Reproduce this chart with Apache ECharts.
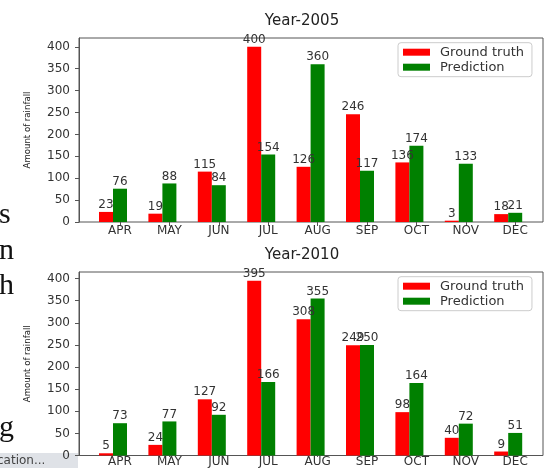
<!DOCTYPE html>
<html>
<head>
<meta charset="utf-8">
<script src="https://cdn.jsdelivr.net/npm/echarts@6/dist/echarts.min.js"></script>
<style>
html,body{margin:0;padding:0;background:#fff;}
#chart{width:549px;height:468px;}
</style>
</head>
<body>
<div id="chart"></div>
<script>
const months = ['APR','MAY','JUN','JUL','AUG','SEP','OCT','NOV','DEC'];
const truth2005 = [23, 19, 115, 400, 126, 246, 136, 3, 18];
const pred2005  = [76, 88, 84, 154, 360, 117, 174, 133, 21];
const truth2010 = [5, 24, 127, 395, 308, 249, 98, 40, 9];
const pred2010  = [73, 77, 92, 166, 355, 250, 164, 72, 51];
const yTicks = [0, 50, 100, 150, 200, 250, 300, 350, 400];
const titles = ['Year-2005', 'Year-2010'];
const seriesNames = ['Ground truth', 'Prediction'];

const chart = echarts.init(document.getElementById('chart'), null, {renderer: 'canvas'});
const FONT = 'DejaVu Sans';
const axisColor = '#555';
const textColor = '#333';

const panels = [
  {top: 38, height: 184, max: 420, truth: truth2005, pred: pred2005, titleTop: 9, legendTop: 42.7},
  {top: 272, height: 183.5, max: 414.75, truth: truth2010, pred: pred2010, titleTop: 243, legendTop: 276.7}
];

const grid = [], xAxis = [], yAxis = [], series = [], title = [], legend = [];
panels.forEach((p, k) => {
  const base = k * 3;
  grid.push({left: 79, width: 464, top: p.top, height: p.height, show: true, borderColor: axisColor, borderWidth: 1, backgroundColor: 'transparent'});
  grid.push({left: 88.3, width: 444.6, top: p.top, height: p.height});
  grid.push({left: 95.3, width: 444.6, top: p.top, height: p.height});
  // frame axes
  xAxis.push({gridIndex: base, type: 'value', min: 0, max: 1, show: false});
  yAxis.push({
    gridIndex: base, type: 'value', min: 0, max: p.max, interval: 50,
    name: 'Amount of rainfall', nameLocation: 'middle', nameRotate: 90, nameGap: 46,
    nameTextStyle: {fontFamily: "'DejaVu Sans Condensed', 'Liberation Sans', sans-serif", fontSize: 9.5, color: '#222'},
    axisLine: {show: true, lineStyle: {color: axisColor}},
    axisTick: {show: true, length: 4, lineStyle: {color: axisColor}},
    splitLine: {show: false},
    axisLabel: {
      fontFamily: FONT, fontSize: 12, color: textColor, margin: 9,
      showMaxLabel: false,
      formatter: v => (yTicks.indexOf(v) >= 0 ? String(v) : '')
    }
  });
  // bar axes
  xAxis.push({gridIndex: base + 1, type: 'category', data: months, show: false, boundaryGap: true});
  yAxis.push({gridIndex: base + 1, type: 'value', min: 0, max: p.max, show: false});
  // label axes
  xAxis.push({
    gridIndex: base + 2, type: 'category', data: months, boundaryGap: true,
    axisLine: {show: false},
    axisTick: {show: true, alignWithLabel: true, length: 4, lineStyle: {color: axisColor}},
    axisLabel: {fontFamily: FONT, fontSize: 12, color: textColor, margin: 3}
  });
  yAxis.push({gridIndex: base + 2, type: 'value', min: 0, max: p.max, show: false});

  const lbl = {show: true, position: 'top', distance: 1, fontFamily: FONT, fontSize: 12, color: textColor};
  series.push({
    name: seriesNames[0], type: 'bar', xAxisIndex: base + 1, yAxisIndex: base + 1,
    data: p.truth, barWidth: 14, barGap: '0%', itemStyle: {color: '#ff0000'}, label: lbl
  });
  series.push({
    name: seriesNames[1], type: 'bar', xAxisIndex: base + 1, yAxisIndex: base + 1,
    data: p.pred, barWidth: 14, barGap: '0%', itemStyle: {color: '#008000'}, label: lbl
  });

  title.push({
    text: titles[k], left: 297, top: p.titleTop, textAlign: 'center',
    textStyle: {fontFamily: FONT, fontSize: 15, fontWeight: 'normal', color: '#222'}
  });
  legend.push({
    data: seriesNames, orient: 'vertical', left: 398, top: p.legendTop,
    itemWidth: 27, itemHeight: 7, itemGap: 2,
    padding: [3, 8, 3, 5],
    borderColor: '#ccc', borderWidth: 1, borderRadius: 3, backgroundColor: '#fff',
    icon: 'rect',
    textStyle: {fontFamily: FONT, fontSize: 13, color: textColor, lineHeight: 11, padding: [0, 0, 0, 5]}
  });
});

const serif = {fontFamily: 'Liberation Serif', fontSize: 30, fill: '#111'};
const graphic = [
  {type: 'text', left: -1, top: 200, style: Object.assign({text: 's'}, serif)},
  {type: 'text', left: -1, top: 236, style: Object.assign({text: 'n'}, serif)},
  {type: 'text', left: -1, top: 271, style: Object.assign({text: 'h'}, serif)},
  {type: 'text', left: -1, top: 413, style: Object.assign({text: 'g'}, serif)},
  {type: 'rect', left: 0, top: 453, shape: {width: 78, height: 15}, style: {fill: '#dfe2e7'}},
  {type: 'text', left: -3, top: 455, style: {text: 'cation...', fontFamily: FONT, fontSize: 12, fill: '#444'}}
];

chart.setOption({
  animation: false,
  backgroundColor: '#fff',
  title, legend, grid, xAxis, yAxis, series, graphic
});
</script>
</body>
</html>
